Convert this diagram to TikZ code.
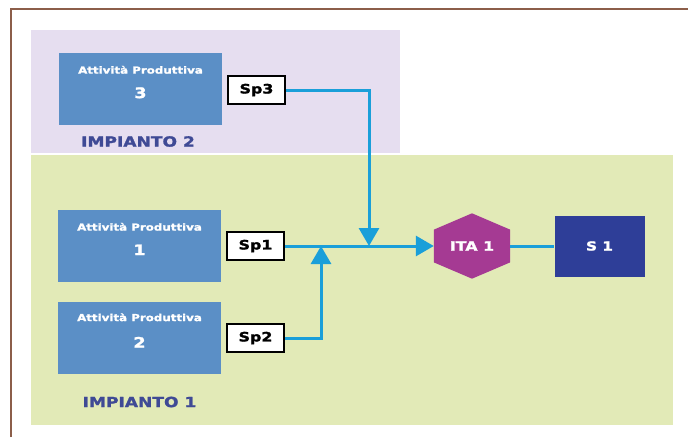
\documentclass[tikz,border=0pt]{standalone}
\usepackage{fontspec}
\usetikzlibrary{arrows.meta,calc}
\newfontfamily\wf[FakeStretch=1.22,FakeBold=1.6]{DejaVu Sans Bold}
\definecolor{bgpurple}{HTML}{E6DEF0}
\definecolor{bggreen}{HTML}{E2EAB7}
\definecolor{apblue}{HTML}{5B8FC6}
\definecolor{linec}{HTML}{1A9FD9}
\definecolor{hexc}{HTML}{A53A93}
\definecolor{sblue}{HTML}{2E3E98}
\definecolor{impc}{HTML}{3F4A95}
\definecolor{framec}{HTML}{8C5E4A}
\begin{document}
\begin{tikzpicture}[x=1pt,y=-1pt,
  apbox/.style={fill=apblue,minimum width=163pt,minimum height=72pt,inner sep=0pt},
  aptitle/.style={text=white,font=\wf\fontsize{9.7}{11}\selectfont,inner sep=0pt},
  apnum/.style={text=white,font=\wf\fontsize{14.5}{16}\selectfont,inner sep=0pt},
  spbox/.style={draw=black,fill=white,line width=1.6pt,minimum width=57pt,minimum height=28pt,inner sep=0pt,font=\wf\fontsize{13}{15}\selectfont},
  implabel/.style={text=impc,font=\wf\fontsize{14}{16}\selectfont,inner sep=0pt},
  conn/.style={draw=linec,line width=3pt},
  tip/.style={-{Triangle[width=20pt,length=18pt]}}]
\useasboundingbox (0,0) rectangle (688,437);
% backgrounds
\fill[bgpurple] (31,30) rectangle (400,153);
\fill[bggreen] (31,155) rectangle (673,425);
\draw[framec,line width=2pt] (11,437) -- (11,9) -- (688,9);
% boxes
\node[apbox] (ap3) at (140.5,89) {};
\node[aptitle] (ap3a) at ($(ap3.north)+(0,17)$) {Attività Produttiva};
\node[apnum] (ap3n) at ($(ap3.north)+(0,40)$) {3};
\node[apbox] (ap1) at (139.5,246) {};
\node[aptitle] (ap1a) at ($(ap1.north)+(0,17)$) {Attività Produttiva};
\node[apnum] (ap1n) at ($(ap1.north)+(0,40)$) {1};
\node[apbox] (ap2) at (139.5,337.5) {};
\node[aptitle] (ap2a) at ($(ap2.north)+(0,16)$) {Attività Produttiva};
\node[apnum] (ap2n) at ($(ap2.north)+(0,41)$) {2};
\node[spbox] (sp3) at (256.5,90) {Sp3};
\node[spbox] (sp1) at (255.5,246) {Sp1};
\node[spbox] (sp2) at (255.5,338) {Sp2};
\node[implabel] (imp2) at (138,141.5) {IMPIANTO 2};
\node[implabel] (imp1) at (139.5,402) {IMPIANTO 1};
% hexagon
\node[minimum width=76pt,minimum height=65pt,inner sep=0pt] (ita) at (472,246) {};
\fill[hexc] (ita.north) -- ($(ita.north east)!0.25!(ita.south east)$) -- ($(ita.north east)!0.75!(ita.south east)$) -- (ita.south) -- ($(ita.north west)!0.75!(ita.south west)$) -- ($(ita.north west)!0.25!(ita.south west)$) -- cycle;
\node[text=white,font=\wf\fontsize{13}{15}\selectfont,inner sep=0pt] (itat) at (ita.center) {ITA 1};
\node[fill=sblue,minimum width=90pt,minimum height=61pt,inner sep=0pt,text=white,font=\wf\fontsize{12.5}{14}\selectfont] (s1) at (599.5,246) {S 1};
% connectors
\coordinate (j3) at (369,246);
\coordinate (j2) at (321,246);
\draw[conn] (ita.east) -- (s1.west);
\draw[conn,tip] (sp1.east) -- (ita.west);
\draw[conn,tip] (sp3.east) -| (j3);
\draw[conn,tip] (sp2.east) -| (j2);
\end{tikzpicture}
\end{document}
